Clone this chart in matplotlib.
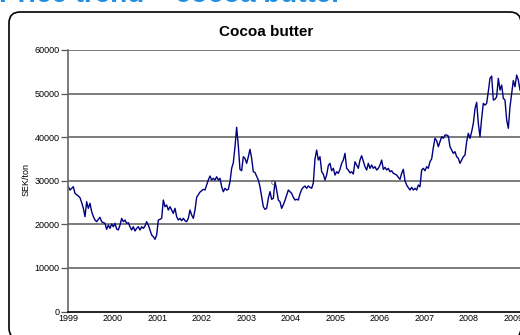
import numpy as np
import matplotlib
matplotlib.use("Agg")
import matplotlib.pyplot as plt
from matplotlib.patches import FancyBboxPatch
from matplotlib.transforms import IdentityTransform

# Cocoa butter price, SEK/ton, roughly two-weekly from Jan 1999
price = [
    28630, 27870, 28260, 28630, 27100, 26800, 26500, 26100, 25000, 23700,
    21750, 25190, 23670, 24820, 22900, 21800, 21000, 20600, 21150, 21610,
    20600, 20400, 20230, 18860, 19840, 19080, 20070, 19450, 20230, 18930,
    18700, 19840, 21380, 20600, 20990, 20230, 20370, 19450, 18700, 19450,
    18470, 19080, 19450, 18700, 19450, 19080, 19610, 20600, 19840, 18700,
    17550, 17160, 16560, 17550, 20990, 21150, 21380, 25580, 24040, 24430,
    23280, 24040, 23280, 22520, 23670, 21750, 20990, 21380, 20830, 21380,
    20830, 20600, 21380, 23280, 22140, 21380, 23280, 26200, 26800, 27400,
    27700, 28030, 27870, 29020, 30170, 31080, 30170, 30550, 30170, 30920,
    30170, 30550, 28630, 27480, 28260, 27870, 28030, 29780, 32850, 34130,
    37810, 42260, 38000, 32600, 32300, 35510, 35140, 34000, 35510, 37210,
    35140, 32070, 31900, 31000, 30170, 28630, 26330, 24040, 23440, 23670,
    25970, 27500, 25740, 25970, 29780, 27870, 25580, 25190, 23670, 24500,
    25500, 26720, 27870, 27480, 27110, 26200, 25580, 25740, 25580, 27000,
    28000, 28500, 28790, 28260, 28800, 28500, 28260, 29500, 35000, 37050,
    34750, 35510, 32070, 31500, 30170, 31310, 33500, 34000, 32300, 32850,
    31310, 32070, 31700, 32620, 34000, 34750, 36290, 32850, 32460, 31800,
    32070, 31540, 34360, 33610, 32850, 34750, 35740, 34500, 33220, 32460,
    34000, 32850, 33610, 32850, 33220, 32460, 32850, 33610, 34750, 32620,
    33070, 32460, 32850, 32070, 32300, 31700, 31540, 31310, 30780, 30320,
    31700, 32620, 30000, 29020, 28400, 27870, 28490, 27870, 28260, 27870,
    29020, 28630, 32460, 32850, 32300, 33220, 32850, 34400, 35000, 37600,
    39730, 39200, 37810, 38960, 40110, 39730, 40490, 40490, 40260, 37810,
    37050, 36290, 36670, 35510, 35140, 34000, 34750, 35510, 35900, 38960,
    40880, 39730, 41250, 43170, 46500, 48000, 43170, 40110, 44320, 47760,
    47370, 47760, 50500, 53500, 54020, 48520, 48680, 49290, 53500, 50810,
    51960, 48910, 48520, 44000, 42030, 46980, 50000, 53000, 51570, 54250,
    53110, 50810,
]
years = 1999 + np.arange(len(price)) / 26.7
year_ticks = list(range(1999, 2010))
y_ticks = [0, 10000, 20000, 30000, 40000, 50000, 60000]

plt.rcParams['font.family'] = ['Liberation Sans', 'DejaVu Sans']

W, H = 520, 335
fig = plt.figure(figsize=(W / 100, H / 100), dpi=100)

# rounded frame around the chart (drawn behind the axes)
frame = FancyBboxPatch((9, -4), 512, H - 12 + 4,
                       boxstyle="round,pad=0,rounding_size=11",
                       transform=IdentityTransform(),
                       facecolor='white', edgecolor='black', linewidth=1.2,
                       zorder=-5)
fig.add_artist(frame)

# slide heading, mostly cut off above the image
fig.text(-1 / W, 1 - 1.5 / H, "Price trend \u2013 cocoa butter", color='#1e8fe4',
         fontsize=20, fontweight='bold', ha='left', va='baseline')

ax = fig.add_axes([67.7 / W, 1 - 311.5 / H, (W - 67.7) / W, 261.5 / H])
ax.set_facecolor('none')
ax.set_zorder(2)
ax.plot(years, price, color='#000080', linewidth=1.0)

ax.set_xlim(1998.986, 2009.15)
ax.set_ylim(0, 60000)
ax.set_yticks(y_ticks)
ax.set_yticklabels([str(v) for v in y_ticks], fontsize=6.5)
ax.set_xticks(year_ticks)
ax.set_xticklabels([str(y) for y in year_ticks], fontsize=6.5)
ax.tick_params(axis='y', length=5, width=0.9, color='#555555', pad=1)
ax.tick_params(axis='x', length=0, pad=2)

for v in y_ticks[1:]:
    ax.axhline(v, color='#666666', linewidth=1.2, zorder=0)

for s in ['top', 'right']:
    ax.spines[s].set_visible(False)
ax.spines['left'].set_color('#666666')
ax.spines['left'].set_linewidth(1.2)
ax.spines['bottom'].set_color('black')
ax.spines['bottom'].set_linewidth(1.2)

ax.text(2003.6, 29550, "c", color='#555555', fontsize=6.5, ha='center', va='center')

fig.text(266.5 / W, 1 - 31.5 / H, "Cocoa butter", fontsize=11, fontweight='bold',
         ha='center', va='center', zorder=3)
fig.text(26.3 / W, 1 - 180 / H, "SEK/ton", fontsize=6.5, rotation=90,
         ha='center', va='center', zorder=3)

fig.savefig("out.png", dpi=100)
